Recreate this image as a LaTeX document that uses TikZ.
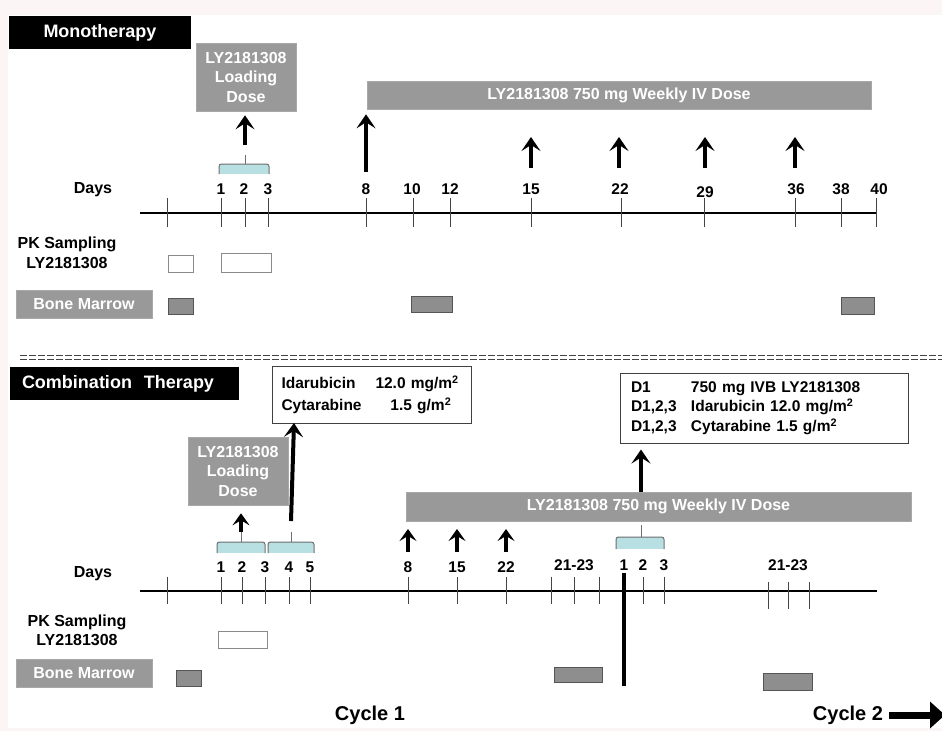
\documentclass[tikz,border=0pt]{standalone}
\usepackage{fontspec}
\setmainfont{Liberation Sans}
\usetikzlibrary{arrows.meta}
\definecolor{pinkbg}{HTML}{FBF5F5}
\definecolor{boxgray}{HTML}{999999}
\definecolor{boxgrayedge}{HTML}{A8A8A8}
\definecolor{bmfill}{HTML}{8E8E8E}
\definecolor{bmedge}{HTML}{555555}
\definecolor{bracefillc}{HTML}{B8E0E2}
\definecolor{bracedrawc}{HTML}{6E6E6E}
\definecolor{pkedge}{HTML}{8A8A8A}
\definecolor{tickcol}{HTML}{444444}
\begin{document}
\begin{tikzpicture}[x=1pt,y=-1pt,
  lbl/.style={font=\bfseries\fontsize{16}{19.5}\selectfont, inner sep=0pt, align=center},
  num/.style={font=\bfseries\fontsize{15.5}{18}\selectfont, inner sep=0pt},
  hdr/.style={fill=black, text=white, font=\bfseries\fontsize{18}{21}\selectfont, inner sep=0pt, minimum height=33pt},
  gbox/.style={fill=boxgray, draw=boxgrayedge, line width=0.6pt, text=white, font=\bfseries\fontsize{16}{19.5}\selectfont, inner sep=0pt, align=center},
  wbox/.style={draw=black!75, line width=1pt, fill=white, inner sep=0pt, align=left, font=\bfseries\fontsize{15.5}{19.5}\selectfont},
  pkbox/.style={draw=pkedge, line width=1pt, fill=white},
  bmbox/.style={draw=bmedge, line width=1pt, fill=bmfill},
  tickmark/.style={draw=tickcol, line width=1pt},
  axisline/.style={line width=2.5pt, black},
  dosearrow/.style={line width=4pt, -{Stealth[length=14pt,width=19pt,inset=6pt]}},
  bracefill/.style={fill=bracefillc},
  bracedraw/.style={draw=bracedrawc, line width=1pt, rounded corners=2.5pt},
  cyc/.style={font=\bfseries\fontsize{20}{24}\selectfont, inner sep=0pt}
]
\useasboundingbox (0,0) rectangle (942,731);
\fill[pinkbg] (0,0) rectangle (942,731);
\fill[white] (8,15) rectangle (942,728);

% ================= MONOTHERAPY =================
\node[hdr, minimum width=182pt] (mono) at (100,32.5) {Monotherapy};
\node[gbox, minimum width=100pt, minimum height=68pt] (load1) at (246,77) {LY2181308\\Loading\\Dose};
\node[gbox, minimum width=504pt, minimum height=28pt] (bar1) at (619,95) {LY2181308 750 mg Weekly IV Dose};

% brace days 1-3
\fill[bracefill] (219,164) rectangle (269,174);
\draw[bracedraw] (219,174) |- (269,164) -- (269,174);
\coordinate (b1top) at (245,155);
\draw[bracedraw] (245,164) -- (b1top);
\coordinate (a1s) at (245,145);
\draw[dosearrow] (a1s) -- (a1s |- load1.south) [shorten >=4pt];

% big arrow day 8
\coordinate (a8s) at (366,172);
\draw[dosearrow, shorten >=5pt] (a8s) -- (a8s |- bar1.south);

% weekly arrows
\foreach \x in {531,619,705,795}{
  \coordinate (wk\x) at (\x,168);
  \coordinate (wkt\x) at (\x,137);
  \draw[dosearrow] (wk\x) -- (wkt\x);
}

% axis
\node[lbl] (days1) at (93,190) {Days};
\coordinate (ax1s) at (140,213);
\coordinate (ax1e) at (877,213);
\draw[axisline] (ax1s) -- (ax1e);
\foreach \x in {167,221,245,268,366,413,450,531,621,704,795,841,876}
  \draw[tickmark] (\x,198) -- (\x,227);
\foreach \x/\t in {221/1,244/2,268/3,366/8,412/10,450/12,531/15,620/22,796/36,841/38,879/40}
  \node[num] (m\t) at (\x,189) {\t};
\node[num] (m29) at (705,192) {29};

% PK and bone marrow
\node[lbl] (pk1) at (67,253) {PK Sampling\\LY2181308};
\node[pkbox, minimum width=25pt, minimum height=17pt, inner sep=0pt] (pk1a) at (180.5,263.5) {};
\node[pkbox, minimum width=50pt, minimum height=19pt, inner sep=0pt] (pk1b) at (246,262.5) {};
\node[gbox, minimum width=136pt, minimum height=28pt] (bm1) at (84,304) {Bone Marrow};
\node[bmbox, minimum width=25pt, minimum height=16pt, inner sep=0pt] (bm1a) at (180.5,306) {};
\node[bmbox, minimum width=41pt, minimum height=16pt, inner sep=0pt] (bm1b) at (431.5,304) {};
\node[bmbox, minimum width=33pt, minimum height=17pt, inner sep=0pt] (bm1c) at (857.5,305.5) {};

% separator
\coordinate (sepl) at (20,355.5);
\coordinate (sepr) at (942,355.5);
\draw[tickcol, line width=1pt, dash pattern=on 7pt off 2pt] (sepl) -- (sepr);
\draw[tickcol, line width=1pt, dash pattern=on 7pt off 2pt] ([yshift=-3.5pt]sepl) -- ([yshift=-3.5pt]sepr);

% ================= COMBINATION =================
\node[hdr, minimum width=229pt, text width=205pt, align=left] (comb) at (124.5,383.5) {Combination\ \ Therapy};
\node[wbox, minimum width=199pt, minimum height=57pt, text width=180pt] (ida) at (371.5,394.5)
  {\makebox[94pt][l]{Idarubicin}12.0 mg/m\textsuperscript{2}\\[2.5pt]\makebox[109pt][l]{Cytarabine}1.5 g/m\textsuperscript{2}};
\node[gbox, minimum width=100pt, minimum height=68pt] (load2) at (238,471) {LY2181308\\Loading\\Dose};
\node[wbox, minimum width=288pt, minimum height=70pt, text width=266pt] (d1box) at (764,408)
  {\makebox[60pt][l]{D1}750 mg IVB LY2181308\\\makebox[60pt][l]{D1,2,3}Idarubicin 12.0 mg/m\textsuperscript{2}\\\makebox[60pt][l]{D1,2,3}Cytarabine 1.5 g/m\textsuperscript{2}};
\node[gbox, minimum width=505pt, minimum height=29pt] (bar2) at (658.5,506.5) {LY2181308 750 mg Weekly IV Dose};

% braces
\fill[bracefill] (217,542) rectangle (265,553);
\draw[bracedraw] (217,553) |- (265,542) -- (265,553);
\coordinate (b2top) at (241,532);
\draw[bracedraw] (241,542) -- (b2top);
\fill[bracefill] (268,542) rectangle (314,553);
\draw[bracedraw] (268,553) |- (314,542) -- (314,553);
\coordinate (b3top) at (291,532);
\draw[bracedraw] (291,542) -- (b3top);
\fill[bracefill] (616,537) rectangle (664,549);
\draw[bracedraw] (616,549) |- (664,537) -- (664,549);
\coordinate (b4top) at (641,525);
\draw[bracedraw] (641,537) -- (b4top);

% arrows
\draw[line width=4pt, -{Stealth[length=12pt,width=17pt,inset=5pt]}, shorten >=8pt] (b2top) -- (b2top |- load2.south);
\coordinate (a3s) at (291,521);
\draw[dosearrow] (a3s) -- (294,423);
\coordinate (a4s) at (641,492);
\draw[dosearrow, shorten >=6pt] (a4s) -- (a4s |- d1box.south);
\foreach \x in {408,457,506}{
  \coordinate (cw\x) at (\x,552);
  \coordinate (cwt\x) at (\x,529);
  \draw[line width=4pt, -{Stealth[length=12pt,width=17pt,inset=5pt]}] (cw\x) -- (cwt\x);
}

% axis
\node[lbl] (days2) at (93,574) {Days};
\coordinate (ax2s) at (140,591);
\coordinate (ax2e) at (877,591);
\draw[axisline] (ax2s) -- (ax2e);
\foreach \x in {167,221,242,265,289,310,408,457,506,551,574,599,643,664}
  \draw[tickmark] (\x,577) -- (\x,604);
\foreach \x in {768,788,809}
  \draw[tickmark] (\x,582) -- (\x,609);
\coordinate (c2s) at (624,573);
\coordinate (c2e) at (624,686);
\draw[line width=4pt] (c2s) -- (c2e);
\foreach \x/\t in {221/1,242/2,265/3,289/4,310/5,408/8,457/15,506/22}
  \node[num] (c\t) at (\x,567) {\t};
\node[num] (r1) at (574,565) {21-23};
\node[num] (d1) at (624,565) {1};
\node[num] (d2) at (643,565) {2};
\node[num] (d3) at (664,565) {3};
\node[num] (r2) at (788,565) {21-23};

% PK and bone marrow
\node[lbl] (pk2) at (77,630.5) {PK Sampling\\LY2181308};
\node[pkbox, minimum width=49pt, minimum height=17pt, inner sep=0pt] (pk2a) at (242.5,639.5) {};
\node[gbox, minimum width=136pt, minimum height=28pt] (bm2) at (84,673) {Bone Marrow};
\node[bmbox, minimum width=25pt, minimum height=16pt, inner sep=0pt] (bm2a) at (188.5,678) {};
\node[bmbox, minimum width=48pt, minimum height=15pt, inner sep=0pt] (bm2b) at (578,674.5) {};
\node[bmbox, minimum width=49pt, minimum height=17pt, inner sep=0pt] (bm2c) at (787.5,681.5) {};

% cycles
\node[cyc] (cyc1) at (370,715) {Cycle 1};
\node[cyc] (cyc2) at (848,715) {Cycle 2};
\coordinate (cyce) at (945,715);
\draw[line width=7pt, -{Triangle[length=15pt,width=26pt]}] ([xshift=6pt]cyc2.east) -- (cyce);
\end{tikzpicture}
\end{document}
